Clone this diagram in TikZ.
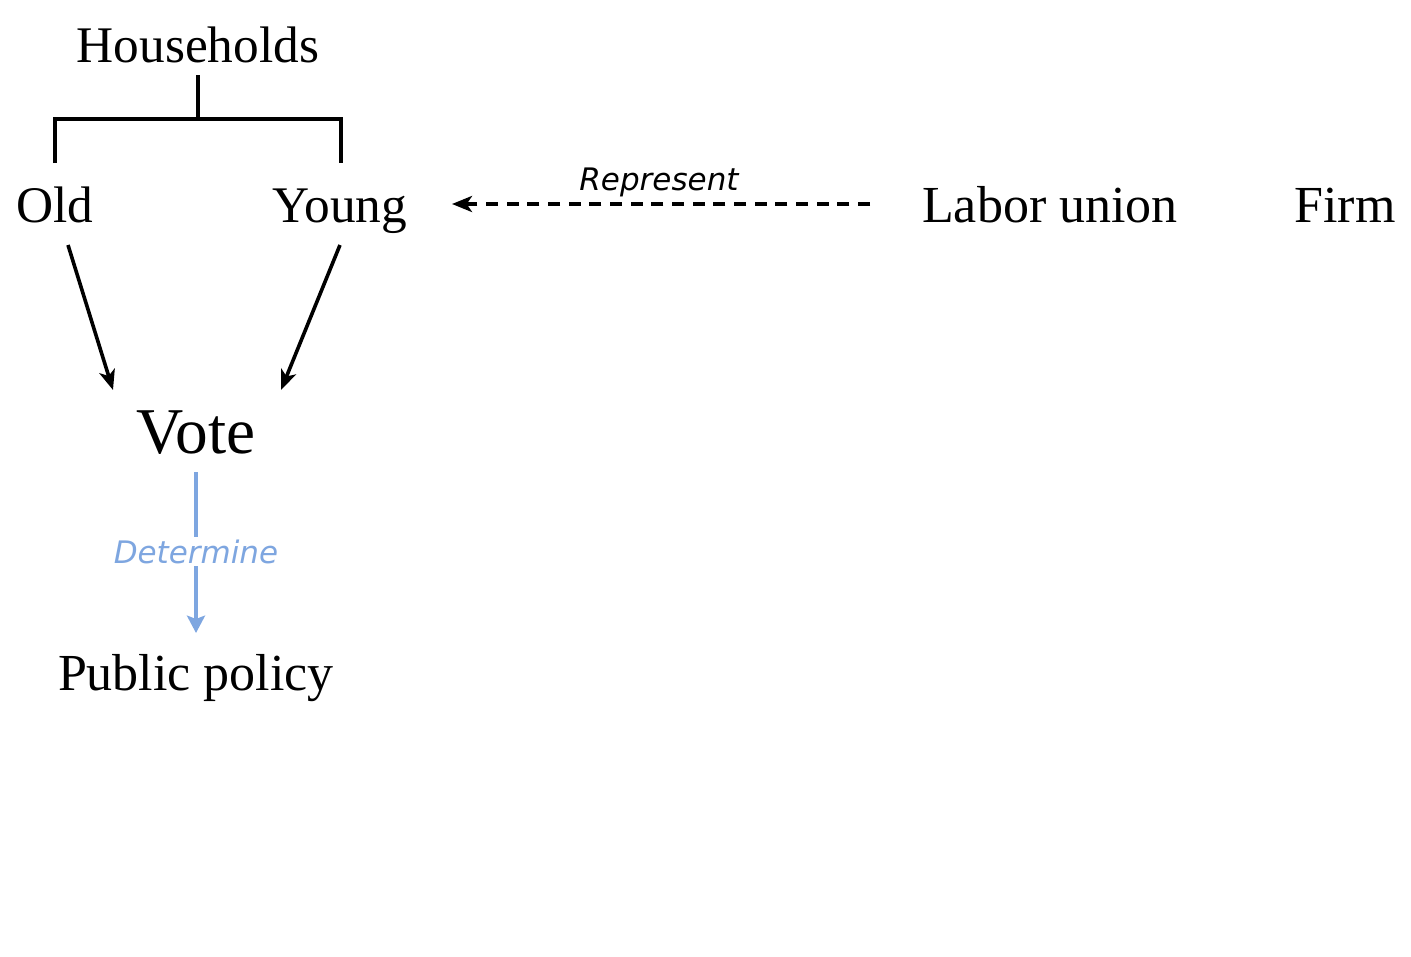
\documentclass[tikz,border=0pt]{standalone}
\usepackage{fontspec}
\setmainfont{Liberation Serif}
\newfontfamily\labfont{DejaVu Sans}
\usetikzlibrary{arrows.meta}
\definecolor{detblue}{RGB}{126,166,224}
\tikzset{
  lbl/.style={font=\fontsize{38.5pt}{42pt}\selectfont, inner sep=0pt, anchor=base},
  lblbig/.style={font=\fontsize{49pt}{52pt}\selectfont, inner sep=0pt, anchor=base},
  lblwide/.style={font=\fontsize{39pt}{42pt}\selectfont, inner sep=0pt, anchor=base},
  edgelbl/.style={font=\labfont\itshape\fontsize{23.25pt}{26pt}\selectfont, inner sep=2pt, anchor=base},
  conn/.style={line width=2.7pt},
  arr/.style={conn, -{Stealth[length=15pt,width=12pt,inset=4pt]}},
}
\begin{document}
\begin{tikzpicture}[x=0.75pt,y=-0.75pt]
\useasboundingbox (0,0) rectangle (1411,957);
% nodes
\node[lbl] (hh) at (198,62) {Households};
\node[lbl] (old) at (55,222) {Old};
\node[lbl] (young) at (340,222) {Young};
\node[lblwide] (union) at (1050,222) {Labor union};
\node[lblwide] (firm) at (1345,222) {Firm};
\node[lblbig] (vote) at (196,453) {Vote};
\node[lblwide] (policy) at (196,690) {Public policy};
% bracket
\coordinate (bt) at (198,75);
\coordinate (bm) at (198,119);
\coordinate (bl) at (55,119);
\coordinate (br) at (341,119);
\coordinate (bld) at (55,163);
\coordinate (brd) at (341,163);
\draw[conn] (bt) -- (bm);
\draw[conn] (bld) -- (bl) -- (br) -- (brd);
% arrows to vote
\coordinate (o1) at (68,245);
\coordinate (o2) at (113,390);
\coordinate (y1) at (340,245);
\coordinate (y2) at (281,390);
\draw[arr] (o1) -- (o2);
\draw[arr] (y1) -- (y2);
% represent
\coordinate (r1) at (870,204);
\coordinate (r2) at (452,204);
\draw[arr, dash pattern=on 9pt off 6.5pt] (r1) -- (r2);
\node[edgelbl] (rep) at (659,190) {Represent};
% determine
\coordinate (d1) at (196,472);
\coordinate (d2) at (196,633);
\draw[detblue, line width=2.7pt, -{Stealth[length=13pt,width=13.5pt,inset=2.5pt]}] (d1) -- (d2);
\node[edgelbl, fill=white, text=detblue] (det) at (196,563) {Determine};
\end{tikzpicture}
\end{document}
